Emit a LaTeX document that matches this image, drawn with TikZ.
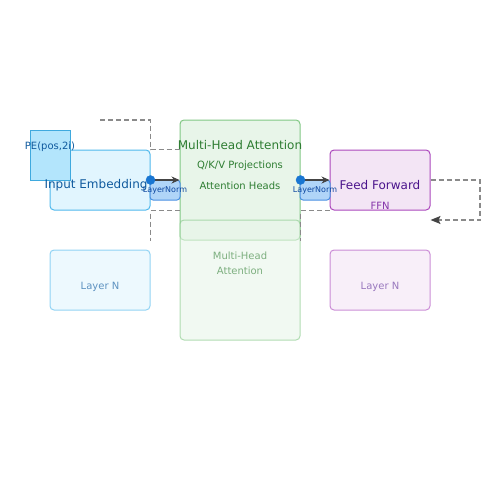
\documentclass[tikz,border=0pt]{standalone}
\usepackage{fontspec}
\setmainfont{DejaVu Sans}
\usetikzlibrary{arrows.meta}

\definecolor{embfill}{HTML}{E1F5FE}
\definecolor{embline}{HTML}{4FB8EC}
\definecolor{embtext}{HTML}{0F5A9E}
\definecolor{pefill}{HTML}{B3E5FC}
\definecolor{peline}{HTML}{3FA9DE}
\definecolor{mhafill}{HTML}{E8F5E9}
\definecolor{mhaline}{HTML}{81C784}
\definecolor{mhatext}{HTML}{2E7D32}
\definecolor{fffill}{HTML}{F3E5F5}
\definecolor{ffline}{HTML}{AB47BC}
\definecolor{fftext}{HTML}{4A148C}
\definecolor{lnfill}{HTML}{B0D5F8}
\definecolor{lnline}{HTML}{4A90E2}
\definecolor{lntext}{HTML}{0D47A1}
\definecolor{dotblue}{HTML}{1976D2}
\definecolor{arrowgray}{HTML}{444444}
\definecolor{dashgray}{HTML}{8A8A8A}

\begin{document}
\begin{tikzpicture}[x=1pt, y=-1pt,
		box/.style={draw, rounded corners=4pt, line width=1pt, inner sep=0pt},
		faded/.style={box, fill opacity=0.6, draw opacity=0.6, text opacity=0.6},
		residual/.style={draw=dashgray, line width=1.5pt, dash pattern=on 5pt off 3pt},
		big/.style={font=\fontsize{12}{14}\selectfont},
		small/.style={font=\fontsize{10}{12}\selectfont},
		tiny/.style={font=\fontsize{8}{9}\selectfont}]
		\useasboundingbox (0,0) rectangle (500,500);
		
		% Coordinates
		\coordinate (resin) at (100,120);
		\coordinate (ffloop) at (480,220);
		
		% Boxes
		\node[box, fill=embfill, draw=embline, minimum width=100pt, minimum height=60pt] (emb) at (100,180) {};
		\node[draw=peline, fill=pefill, line width=1pt, minimum width=40pt, minimum height=50pt] (pe) at (50,155) {};
		\node[box, fill=mhafill, draw=mhaline, minimum width=120pt, minimum height=120pt] (mha) at (240,180) {};
		\node[faded, fill=mhafill, draw=mhaline, minimum width=120pt, minimum height=120pt] (mhalow) at (240,280) {};
		\node[box, fill=fffill, draw=ffline, minimum width=100pt, minimum height=60pt] (ff) at (380,180) {};
		\node[faded, fill=embfill, draw=embline, minimum width=100pt, minimum height=60pt] (layerL) at (100,280) {};
		\node[faded, fill=fffill, draw=ffline, minimum width=100pt, minimum height=60pt] (layerR) at (380,280) {};
		
		% Lines
		\draw[residual] (resin) -| (emb.north east) -- (emb.north east -| mha.west);
		\draw[residual] (mha.west |- emb.south) -- (emb.south east) -- (emb.south east |- mha.south);
		\draw[residual] (ff.south west) -- (ff.south west -| mha.east) -- (mha.south east);
		\draw[residual, -{Stealth[length=10pt, width=8pt, inset=2pt, color=arrowgray]}] (ff.east) -| (ffloop) -- (ffloop -| ff.east);
		
		% Nodes
		\node[big, text=embtext] (embtxt) at (96,185) {Input Embedding};
		\node[small, text=embtext] (petxt) at (50,147) {PE(pos,2i)};
		\node[big, text=mhatext] (mhatxt) at (240,145.5) {Multi-Head Attention};
		\node[small, text=mhatext] (qkv) at (240,166) {Q/K/V Projections};
		\node[small, text=mhatext] (heads) at (240,186) {Attention Heads};
		\node[small, text=mhatext, text opacity=0.6] (mhalowtxt) at (240,256) {Multi-Head};
		\node[small, text=mhatext, text opacity=0.6] (mhalowtxt2) at (240,271) {Attention};
		\node[big, text=fftext] (fftxt) at (380,185) {Feed Forward};
		\node[small, text=ffline!60!fftext] (ffn) at (380,206) {FFN};
		\node[small, text=embtext, text opacity=0.65] (layerLtxt) at (100,286.5) {Layer N};
		\node[small, text=fftext, text opacity=0.55] (layerRtxt) at (380,286.5) {Layer N};
		
		% LayerNorm
		\node[box, rounded corners=3pt, fill=lnfill, draw=lnline, minimum width=30pt, minimum height=20pt] (lnL) at (165,190) {};
		\node[box, rounded corners=3pt, fill=lnfill, draw=lnline, minimum width=30pt, minimum height=20pt] (lnR) at (315,190) {};
		\node[tiny, text=lntext] (lnLtxt) at (165,190) {LayerNorm};
		\node[tiny, text=lntext] (lnRtxt) at (315,190) {LayerNorm};
		
		% Arrows
		\draw[line width=2pt, arrowgray, -{Stealth[length=8pt, width=7pt]}] (emb.east) -- (mha.west);
		\draw[line width=2pt, arrowgray, -{Stealth[length=8pt, width=7pt]}] (mha.east) -- (ff.west);
		
		% Points
		\draw[fill=dotblue, draw=dotblue] (emb.east) circle (4.5pt);
		\draw[fill=dotblue, draw=dotblue] (mha.east) circle (4.5pt);
	\end{tikzpicture}
\end{document}
